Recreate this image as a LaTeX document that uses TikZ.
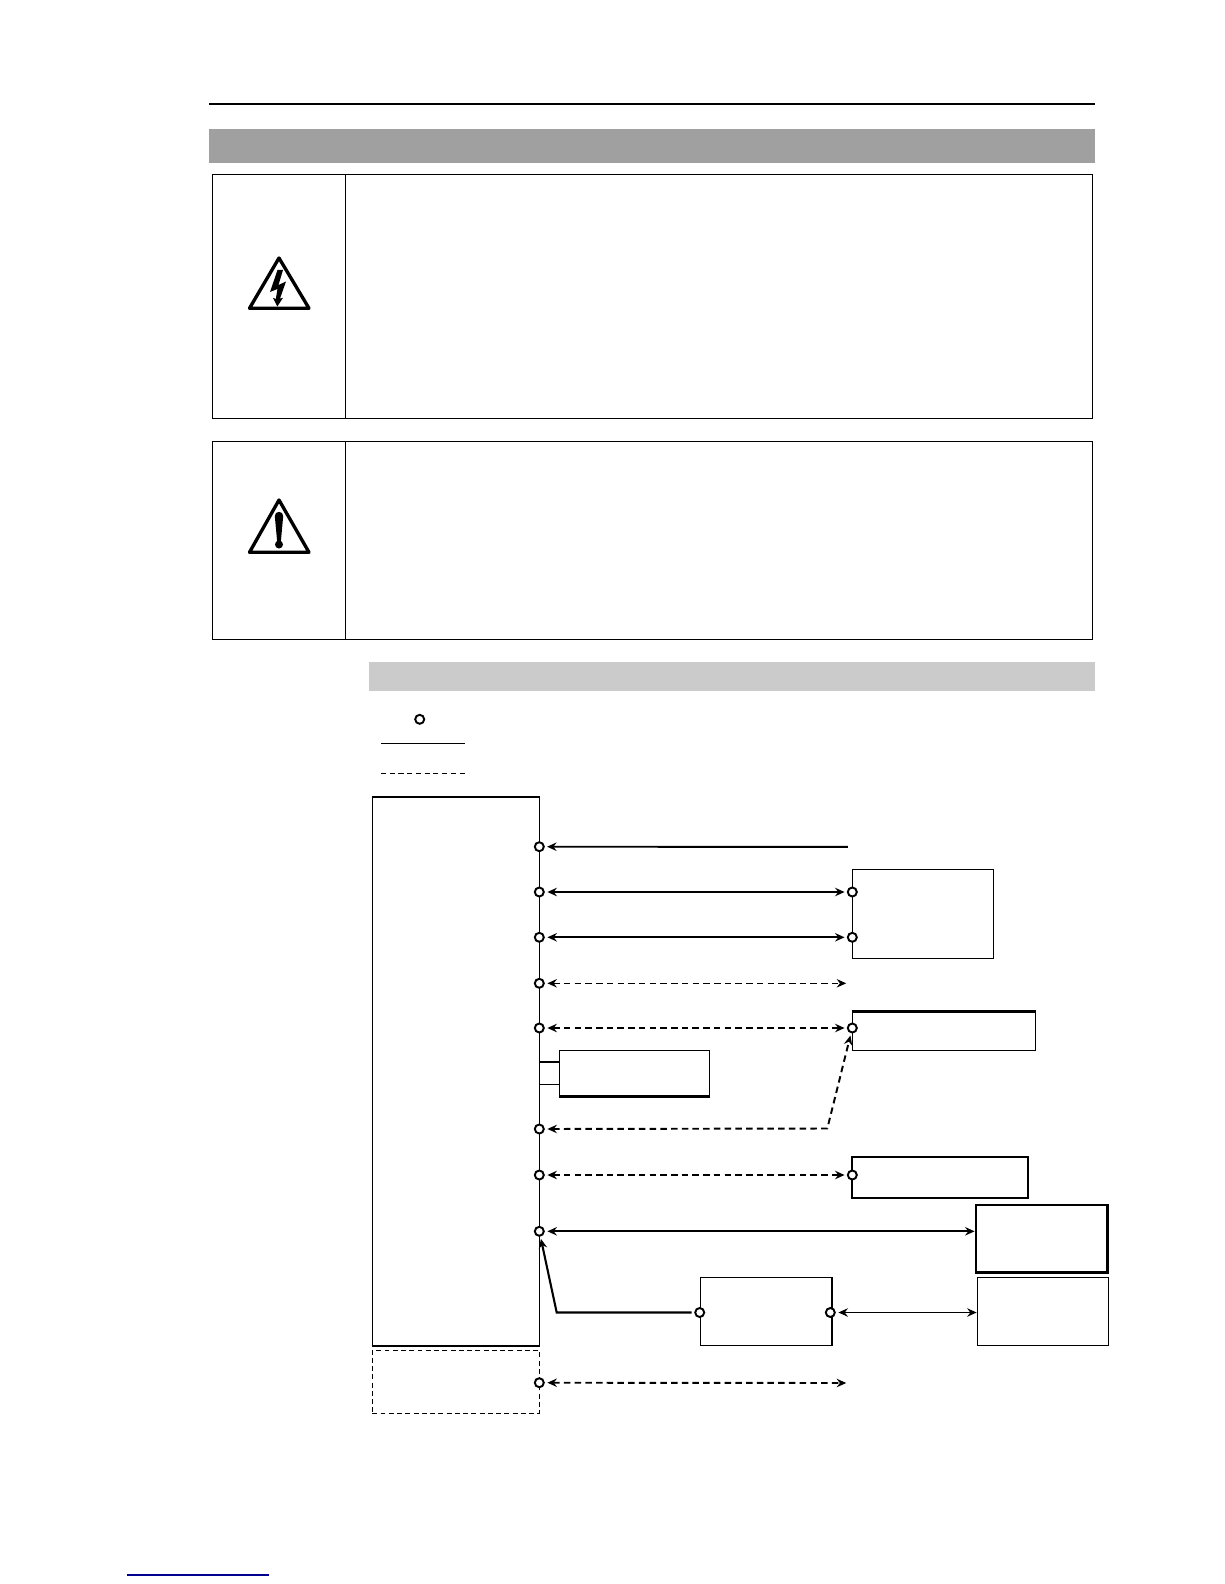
\documentclass[tikz,border=0pt]{standalone}
\usetikzlibrary{arrows.meta,fit}
\definecolor{barDark}{HTML}{A0A0A0}
\definecolor{barLight}{HTML}{CBCBCB}
\definecolor{linkBlue}{HTML}{000090}
\begin{document}
\begin{tikzpicture}[x=0.02cm,y=-0.02cm,
  >={Stealth[length=5.4pt,width=4.8pt,inset=1.8pt]},
  box/.style={draw=black,line width=0.75pt,inner sep=0pt,fit={#1}},
  boldbox/.style={box={#1},line width=1.25pt},
  dashbox/.style={box={#1},line width=0.8pt,dash pattern=on 2.8pt off 1.9pt},
  term/.style={circle,draw=black,fill=white,line width=1.1pt,inner sep=0pt,minimum size=0.18cm},
  wire/.style={line width=1.1pt,shorten <=1.5pt,shorten >=1.3pt},
  dashwire/.style={wire,dash pattern=on 3.7pt off 2.4pt},
  panel/.style={draw=black,line width=0.75pt},
  warn/.style={draw=black,fill=white,line width=1.9pt,line join=round}]
\useasboundingbox (0,0) rectangle (1224,1584);
\draw [black,line width=1.15pt] (209,104) -- (1095,104);
\fill [barDark] (209,129) rectangle (1095,162.7);
\draw [panel] (212.3,174.3) rectangle (1092.7,418.3);
\draw [panel] (345.3,174.3) -- (345.3,418.3);
\draw [warn] (279,258) -- (309,308.3) -- (249.5,308.3) -- cycle;
\fill [black] (277.5,270) -- (270,292) -- (277.5,289) -- (275.8,299) -- (273,297.8) -- (277.3,306.5) -- (283,297.8) -- (280,298.6) -- (286,281.5) -- (278.5,285) -- (283,270) -- cycle;
\draw [panel] (212.3,441.3) rectangle (1092.7,639.3);
\draw [panel] (345.3,441.3) -- (345.3,639.3);
\draw [warn] (279,500) -- (309,552.3) -- (249.5,552.3) -- cycle;
\fill [black] (274.8,516) arc (180:360:4.2) -- (280.9,541) -- (277.1,541) -- cycle;
\fill [black] (279,544.5) circle (4);
\fill [barLight] (369,662) rectangle (1095,690.7);
\node [term] (key) at (419.7,719.3) {};
\draw [black,line width=0.7pt] (381,743.3) -- (465,743.3);
\draw [black,line width=0.7pt,dash pattern=on 2.9pt off 2.07pt] (381,773.3) -- (465,773.3);
\node [box={(372.3,797.3) (539.3,1345.7)}] (ctrl) {};
\draw [black,line width=1.25pt] (ctrl.north west) -- (ctrl.north east);
\draw [black,line width=1.25pt] (ctrl.south west) -- (ctrl.south east);
\node [dashbox={(372.3,1350.3) (539.3,1413.3)}] (opt) {};
\node [box={(852.3,869.3) (993.3,958.3)}] (unitA) {};
\node [box={(852.3,1012) (1035.7,1050.3)}] (unitB) {};
\draw [black,line width=1.25pt] (unitB.north west) -- (unitB.north east);
\node [boldbox={(852.3,1156.7) (1028.3,1198)}] (unitC) {};
\node [boldbox={(976,1205) (1107.3,1272.7)},line width=1.6pt] (unitD) {};
\node [box={(977.3,1277.3) (1108.7,1345.3)}] (unitE) {};
\node [box={(700.3,1277.3) (831.3,1345.3)}] (unitF) {};
\draw [black,line width=1.25pt] (unitF.north east) -- (unitF.south east);
\node [box={(559.3,1050.3) (709.3,1096)}] (unitS) {};
\draw [black,line width=1.25pt] (unitS.south west) -- (unitS.south east);
\coordinate (stubA) at (unitS.west |- 0,1061.7);
\coordinate (stubB) at (unitS.west |- 0,1084.3);
\draw [black,line width=1.1pt] (ctrl.east |- stubA) -- (stubA);
\draw [black,line width=0.7pt] (ctrl.east |- stubB) -- (stubB);
\node [term] (p1) at (539.3,846.7) {};
\node [term] (p2) at (539.3,892) {};
\node [term] (p3) at (539.3,937.3) {};
\node [term] (p4) at (539.3,983.3) {};
\node [term] (p5) at (539.3,1028) {};
\node [term] (p6) at (539.3,1129) {};
\node [term] (p7) at (539.3,1175) {};
\node [term] (p8) at (539.3,1231.3) {};
\node [term] (p9) at (539.3,1382.7) {};
\node [term] (a1) at (852.3,892) {};
\node [term] (a2) at (852.3,937.3) {};
\node [term] (b1) at (852.3,1028) {};
\node [term] (c1) at (852.3,1175) {};
\node [term] (f1) at (699.7,1312.5) {};
\node [term] (f2) at (830.3,1312.5) {};
\coordinate (end1) at (850.5,846.9);
\coordinate (end4) at (848.5,983.3);
\coordinate (end9) at (848.5,1383);
\coordinate (bend) at (827.3,1128.5);
\coordinate (elbow) at (556.7,1312.5);
\draw [wire,->] (end1) -- (p1);
\draw [wire,<->] (p2) -- (a1);
\draw [wire,<->] (p3) -- (a2);
\draw [dashwire,<->,line width=0.75pt] (p4) -- (end4);
\draw [dashwire,<->] (p5) -- (b1);
\draw [dashwire,<->] (p6) -- (bend) -- (b1);
\draw [dashwire,<->] (p7) -- (c1);
\draw [wire,<->,shorten >=0pt] (p8) -- (unitD.west |- p8);
\draw [wire,->,line width=1.2pt] (f1) -- (elbow) -- (p8);
\draw [wire,<->,shorten >=0pt] (f2) -- (unitE.west |- f2);
\draw [dashwire,<->] (p9) -- (end9);
\draw [linkBlue,line width=0.75pt] (127,1575) -- (269,1575);
\end{tikzpicture}
\end{document}
